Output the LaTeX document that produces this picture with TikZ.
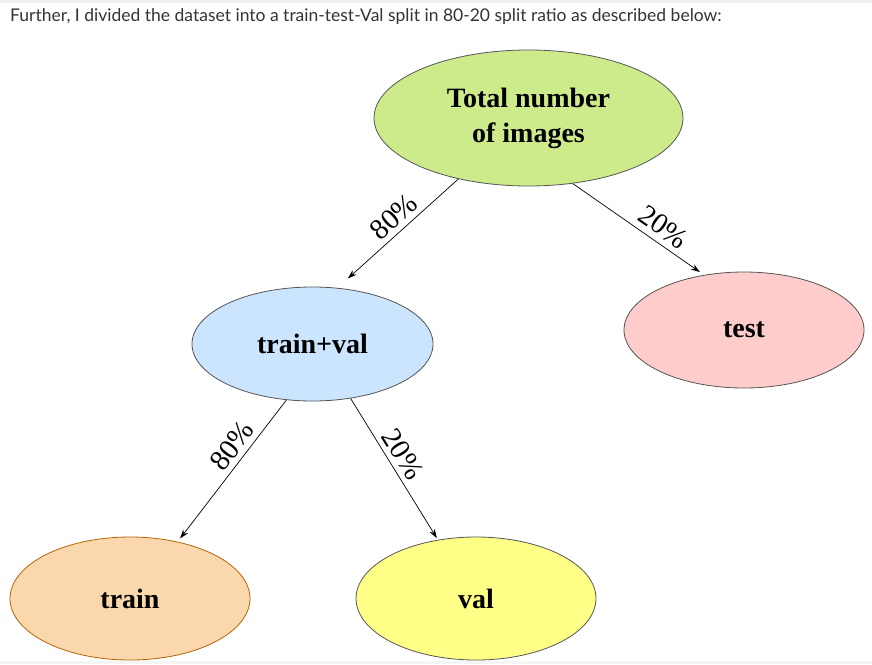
\documentclass[tikz,border=0pt]{standalone}
\usepackage{fontspec}
\setmainfont{Liberation Serif}
\newfontfamily\latofont{Lato}
\usetikzlibrary{shapes.geometric,arrows.meta}
\definecolor{topgreen}{HTML}{CDEB8B}
\definecolor{tvblue}{HTML}{CCE5FF}
\definecolor{testpink}{HTML}{FFCCCC}
\definecolor{trainorange}{HTML}{FAD7AC}
\definecolor{trainborder}{HTML}{B46504}
\definecolor{valyellow}{HTML}{FFFF88}
\definecolor{edgegray}{HTML}{555555}
\definecolor{captiongray}{HTML}{333333}
\tikzset{
  blob/.style={ellipse, draw=edgegray, line width=0.8pt, inner sep=0pt,
    font=\fontsize{28}{35}\selectfont\bfseries, align=center},
  link/.style={draw=black, line width=0.7pt, -{Stealth[length=9pt,width=6pt]}},
  pct/.style={font=\fontsize{29}{32}\selectfont, sloped, inner sep=0pt}
}
\begin{document}
\begin{tikzpicture}[x=1pt,y=-1pt]
\useasboundingbox (0,0) rectangle (872,664);
\fill[gray!12] (0,0) rectangle (872,3);
\fill[gray!8] (0,661) rectangle (872,664);
\node[anchor=west, font=\latofont\fontsize{17.5}{21}\selectfont, text=captiongray, inner sep=0pt] (cap) at (10,17)
  {Further, I divided the dataset into a train-test-Val split in 80-20 split ratio as described below:};
\node[blob, fill=topgreen, minimum width=309pt, minimum height=136pt] (total) at (528.5,118) {Total number\\of images};
\node[blob, fill=tvblue, minimum width=241pt, minimum height=114pt] (tv) at (312.5,344) {train+val};
\node[blob, fill=testpink, minimum width=240pt, minimum height=116pt] (test) at (744,330) {test};
\node[blob, fill=trainorange, draw=trainborder, minimum width=240pt, minimum height=123pt] (train) at (130,598.5) {train};
\node[blob, fill=valyellow, minimum width=240pt, minimum height=123pt] (val) at (476,598.5) {val};
\draw[link, shorten >=14pt] (total.221.6) -- node[pct, pos=0.45, above=5pt] (p1) {80\%} (tv.66);
\draw[link, shorten >=5pt] (total.304.3) -- node[pct, pos=0.62, above=6pt] (p2) {20\%} (test.126.9);
\draw[link, shorten >=4pt] (tv.245.9) -- node[pct, pos=0.39, above=5pt] (p3) {80\%} (train.50);
\draw[link, shorten >=2pt] (tv.305.8) -- node[pct, pos=0.45, above=5pt] (p4) {20\%} (val.123.2);
\end{tikzpicture}
\end{document}
